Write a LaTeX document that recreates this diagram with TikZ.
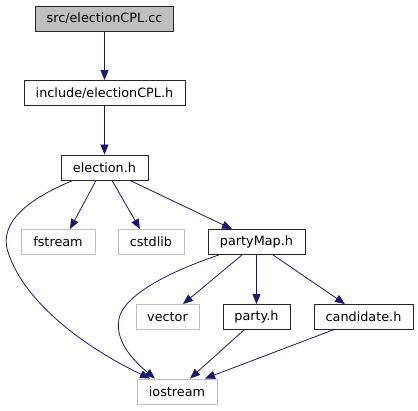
\documentclass[tikz,border=0pt]{standalone}
\usepackage{fontspec}
\setmainfont{DejaVu Sans}
\usetikzlibrary{arrows.meta}
\definecolor{edgeblue}{HTML}{191970}
\definecolor{boxgray}{HTML}{BFBFBF}
\definecolor{fillgray}{HTML}{BFBFBF}
\tikzset{
  fbox/.style={draw=black!85, line width=0.9pt, fill=white, inner sep=0pt, minimum height=25pt, font=\fontsize{12.8pt}{15pt}\selectfont},
  gbox/.style={draw=boxgray, line width=0.9pt, fill=white, inner sep=0pt, minimum height=25pt, font=\fontsize{12.8pt}{15pt}\selectfont},
  dep/.style={draw=edgeblue, line width=0.8pt, -{Triangle[length=10pt,width=8pt]}}
}
\begin{document}
\begin{tikzpicture}[x=1pt,y=-1pt]
\useasboundingbox (0,0) rectangle (418,411);
\node[fbox, fill=fillgray, minimum width=138pt] (cc) at (104.5,18.5) {src/electionCPL.cc};
\node[fbox, minimum width=161pt] (inc) at (104.5,93) {include/electionCPL.h};
\node[fbox, minimum width=87pt] (el) at (104.5,167.5) {election.h};
\node[gbox, minimum width=74pt] (fs) at (58,242) {fstream};
\node[gbox, minimum width=66pt] (cs) at (151,242) {cstdlib};
\node[fbox, minimum width=97pt] (pm) at (256.5,242) {partyMap.h};
\node[gbox, minimum width=63pt] (vec) at (167.5,317) {vector};
\node[fbox, minimum width=67pt] (pa) at (256.5,317) {party.h};
\node[fbox, minimum width=99pt] (ca) at (363.5,317) {candidate.h};
\node[gbox, minimum width=80pt] (io) at (177,391.5) {iostream};

\draw[dep] (cc) -- (inc);
\draw[dep] (inc) -- (el);
\draw[dep] ([xshift=-8.5pt]el.south) -- ([xshift=12pt]fs.north);
\draw[dep] ([xshift=7.5pt]el.south) -- ([xshift=-11pt]cs.north);
\draw[dep] ([xshift=25.5pt]el.south) -- ([xshift=-24.5pt]pm.north);
\draw[dep] ([xshift=-31.5pt]el.south) .. controls (30,198) and (-2,222) .. (8,252)
   .. controls (25,305) and (90,350) .. ([xshift=-27pt]io.north);
\draw[dep] ([xshift=-37.5pt]pm.south) .. controls (180,268) and (130,290) .. (120,315)
   .. controls (112,340) and (135,362) .. ([xshift=-22pt]io.north);
\draw[dep] ([xshift=-14.5pt]pm.south) -- ([xshift=15.5pt]vec.north);
\draw[dep] (pm) -- (pa);
\draw[dep] ([xshift=16.5pt]pm.south) -- ([xshift=-18.5pt]ca.north);
\draw[dep] ([xshift=-12.5pt]pa.south) -- ([xshift=13pt]io.north);
\draw[dep] ([xshift=-30.5pt]ca.south) -- ([xshift=28pt]io.north);
\end{tikzpicture}
\end{document}
